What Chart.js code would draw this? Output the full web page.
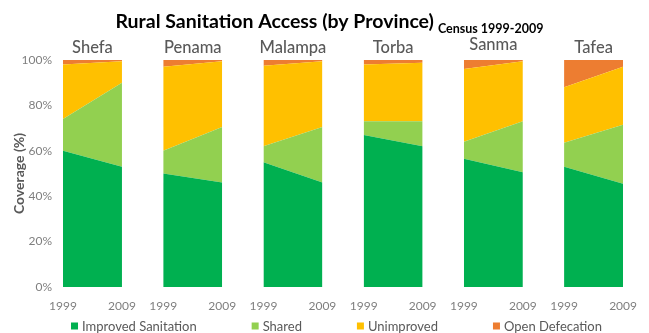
<!DOCTYPE html>
<html>
<head>
<meta charset="utf-8">
<script src="https://cdn.jsdelivr.net/npm/chart.js@4"></script>
<style>
  html, body { margin: 0; padding: 0; background: #fff; }
  #wrap { width: 649px; height: 333px; }
</style>
</head>
<body>
<div id="wrap"><canvas id="chart"></canvas></div>
<script>
// ********* data *********
const provinces = ['Shefa', 'Penama', 'Malampa', 'Torba', 'Sanma', 'Tafea'];
const years = ['1999', '2009'];
const yTicks = [0, 20, 40, 60, 80, 100];

// pairs per province: 1999, 2009
const improved   = [60, 53,   50, 46,   55, 46,   67, 62,     56.5, 50.5, 53, 45.5];
const shared     = [14, 37,   10, 24.5, 7, 24.5,  6, 11,      7.5, 22.5,  10.5, 26];
const unimproved = [24, 9.5,  37, 29,   35.5, 29, 25, 25.8,   32, 26.5,   24.5, 25.5];
const openDef    = [2, 0.5,   3, 0.5,   2.5, 0.5, 2, 1.2,     4, 0.5,     12, 3];

const seriesNames = ['Improved Sanitation', 'Shared', 'Unimproved', 'Open Defecation'];
const seriesColors = ['#00B050', '#92D050', '#FFC000', '#ED7D31'];

const title = 'Rural Sanitation Access (by Province)';
const subtitle = 'Census 1999-2009';

// ********* layout *********
const GAP = 0.7;   // space between provinces, in panel widths
const FONT = 'Lato, "Open Sans", sans-serif';

// each province is one panel on a linear x axis, broken by a null point
const toPoints = (values) => {
  let pts = [];
  provinces.forEach((p, i) => {
    const x0 = i * (1 + GAP);
    pts.push({x: x0, y: values[i * 2]});
    pts.push({x: x0 + 1, y: values[i * 2 + 1]});
    if (i < provinces.length - 1) pts.push({x: x0 + 1 + GAP / 2, y: null});
  });
  return pts;
};

const allSeries = [improved, shared, unimproved, openDef];

const datasets = allSeries.map((vals, k) => ({
  label: seriesNames[k],
  data: toPoints(vals),
  backgroundColor: seriesColors[k],
  borderColor: seriesColors[k],
  borderWidth: 0,
  pointRadius: 0,
  tension: 0,
  spanGaps: false,
  fill: k === 0 ? 'origin' : '-1'
}));

// ********* text: title, province names, legend *********
const textPlugin = {
  id: 'textPlugin',
  afterDraw(chart) {
    const ctx = chart.ctx;
    const xs = chart.scales.x;
    ctx.save();

    // title + subtitle on one line
    ctx.textAlign = 'left';
    ctx.textBaseline = 'alphabetic';
    ctx.font = 'bold 19.5px ' + FONT;
    const w1 = ctx.measureText(title).width;
    ctx.font = 'bold 12.5px ' + FONT;
    const w2 = ctx.measureText(subtitle).width;
    const start = chart.width / 2 - (w1 + 4 + w2) / 2 + 5;
    ctx.fillStyle = '#000';
    ctx.font = 'bold 19.5px ' + FONT;
    ctx.fillText(title, start, 28);
    ctx.font = 'bold 12.5px ' + FONT;
    ctx.fillText(subtitle, start + w1 + 4, 33);

    // province names over their panels
    ctx.textAlign = 'center';
    ctx.font = '500 16.5px ' + FONT;
    ctx.fillStyle = '#595959';
    provinces.forEach((p, i) => {
      const cx = xs.getPixelForValue(i * (1 + GAP) + 0.5);
      ctx.fillText(p, cx, p === 'Sanma' ? 50 : 53);
    });

    // legend
    ctx.font = '13px ' + FONT;
    ctx.textAlign = 'left';
    ctx.textBaseline = 'middle';
    const box = 7, itemGap = 55;
    const widths = seriesNames.map(n => box + 4 + ctx.measureText(n).width);
    const total = widths.reduce((a, b) => a + b, 0) + itemGap * (widths.length - 1);
    let lx = (chart.width - total) / 2 + 12;
    const ly = 326;
    seriesNames.forEach((n, k) => {
      ctx.fillStyle = seriesColors[k];
      ctx.fillRect(lx, ly - box / 2, box, box);
      ctx.fillStyle = '#595959';
      ctx.fillText(n, lx + box + 4, ly + 1);
      lx += widths[k] + itemGap;
    });

    ctx.restore();
  }
};

const ctx = document.getElementById('chart').getContext('2d');
const chart = new Chart(ctx, {
  type: 'line',
  data: { datasets: datasets },
  plugins: [textPlugin],
  options: {
    responsive: true,
    maintainAspectRatio: false,
    animation: false,
    layout: { padding: { top: 60, right: 15, bottom: 22, left: 0 } },
    plugins: {
      legend: { display: false },
      tooltip: { enabled: false }
    },
    scales: {
      x: {
        type: 'linear',
        min: 0,
        max: (provinces.length - 1) * (1 + GAP) + 1,
        grid: { display: false, drawTicks: false },
        border: { display: false },
        afterBuildTicks: (scale) => {
          let t = [];
          provinces.forEach((p, i) => {
            t.push({value: i * (1 + GAP)});
            t.push({value: i * (1 + GAP) + 1});
          });
          scale.ticks = t;
        },
        afterFit: (scale) => { scale.height = 24; },
        ticks: {
          autoSkip: false,
          maxRotation: 0,
          padding: 12,
          color: '#7f7f7f',
          font: { family: FONT, size: 12 },
          callback: (value, index) => years[index % 2]
        }
      },
      y: {
        stacked: true,
        min: 0,
        max: 100,
        grid: { display: false, drawTicks: false },
        border: { display: false },
        afterBuildTicks: (scale) => { scale.ticks = yTicks.map(v => ({value: v})); },
        afterFit: (scale) => { scale.width = 63; },
        ticks: {
          padding: 11,
          color: '#7f7f7f',
          font: { family: FONT, size: 12 },
          callback: (v) => v + '%'
        },
        title: {
          display: true,
          text: 'Coverage (%)',
          color: '#595959',
          padding: { top: 11, bottom: 0 },
          font: { family: FONT, size: 14, weight: 'bold' }
        }
      }
    }
  }
});
</script>
</body>
</html>
